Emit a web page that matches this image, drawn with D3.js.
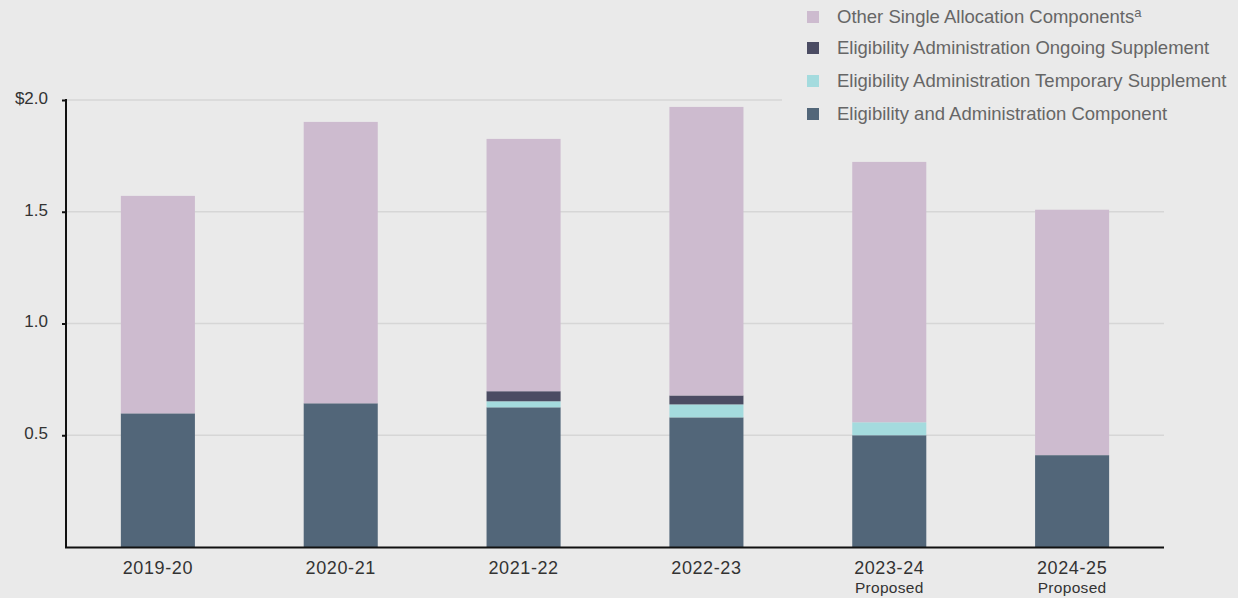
<!DOCTYPE html>
<html>
<head>
<meta charset="utf-8">
<script src="https://cdn.jsdelivr.net/npm/d3@7"></script>
<style>
  body { margin: 0; background: #eaeaea; }
  svg { display: block; font-family: "Liberation Sans", Arial, sans-serif; }
</style>
</head>
<body>
<svg width="1238" height="598"></svg>
<script>
const years = ['2019-20', '2020-21', '2021-22', '2022-23', '2023-24', '2024-25'];
const subLabels = ['', '', '', '', 'Proposed', 'Proposed'];
const eligAdmin = [0.598, 0.643, 0.625, 0.580, 0.500, 0.411];
const tempSupp = [0, 0, 0.027, 0.058, 0.058, 0];
const ongoingSupp = [0, 0, 0.045, 0.040, 0, 0];
const otherComp = [0.973, 1.259, 1.129, 1.291, 1.165, 1.098];
const yTicks = [0.5, 1.0, 1.5, 2.0];

const seriesKeys = ['elig', 'temp', 'ongoing', 'other'];
const colors = { elig: '#526679', temp: '#a4dbde', ongoing: '#4b4c63', other: '#cdbbcf' };

const rows = years.map((y, i) => ({
  year: y, elig: eligAdmin[i], temp: tempSupp[i], ongoing: ongoingSupp[i], other: otherComp[i]
}));
const stacked = d3.stack().keys(seriesKeys)(rows);

const svg = d3.select('svg');
const x = d3.scaleBand().domain(years).range([66, 1164]).paddingInner(0.595).paddingOuter(0.3);
const y = d3.scaleLinear().domain([0, 2]).range([547, 100]);

// gridlines
svg.append('g')
  .selectAll('line')
  .data(yTicks)
  .join('line')
  .attr('x1', 66).attr('x2', 1164)
  .attr('y1', d => y(d)).attr('y2', d => y(d))
  .attr('stroke', '#d6d6d6').attr('stroke-width', 1.5);

// bars
svg.append('g')
  .selectAll('g')
  .data(stacked)
  .join('g')
  .attr('fill', s => colors[s.key])
  .selectAll('rect')
  .data(s => s)
  .join('rect')
  .attr('x', d => x(d.data.year))
  .attr('width', x.bandwidth())
  .attr('y', d => y(d[1]))
  .attr('height', d => y(d[0]) - y(d[1]));

// legend background (covers top gridline)
svg.append('rect')
  .attr('x', 782).attr('y', 0).attr('width', 456).attr('height', 130)
  .attr('fill', '#eaeaea');

// y axis
const yAxis = svg.append('g')
  .attr('transform', 'translate(66,0)')
  .call(d3.axisLeft(y).tickValues(yTicks).tickSize(4)
    .tickFormat(d => d === 2 ? '$2.0' : d3.format('.1f')(d)));
yAxis.select('.domain').remove();
yAxis.selectAll('line').attr('stroke', '#111').attr('stroke-width', 2);
yAxis.selectAll('text')
  .attr('x', -18).attr('dy', '0.2em')
  .attr('fill', '#333').style('font-size', '17px');

svg.append('line')
  .attr('x1', 66).attr('x2', 66).attr('y1', 99).attr('y2', 548)
  .attr('stroke', '#111').attr('stroke-width', 2);
svg.append('line')
  .attr('x1', 65).attr('x2', 1164).attr('y1', 547.5).attr('y2', 547.5)
  .attr('stroke', '#111').attr('stroke-width', 2);

// x labels
const xl = svg.append('g');
xl.selectAll('text.yr')
  .data(years)
  .join('text')
  .attr('class', 'yr')
  .attr('x', d => x(d) + x.bandwidth() / 2)
  .attr('y', 574)
  .attr('text-anchor', 'middle')
  .attr('fill', '#333').style('font-size', '18px').style('letter-spacing', '0.6px')
  .text(d => d);
xl.selectAll('text.sub')
  .data(years)
  .join('text')
  .attr('class', 'sub')
  .attr('x', d => x(d) + x.bandwidth() / 2)
  .attr('y', 593)
  .attr('text-anchor', 'middle')
  .attr('fill', '#333').style('font-size', '15.5px').style('letter-spacing', '0.3px')
  .text((d, i) => subLabels[i]);

// legend
const legendItems = [
  { key: 'other', label: 'Other Single Allocation Components', sup: 'a', y: 17 },
  { key: 'ongoing', label: 'Eligibility Administration Ongoing Supplement', y: 48 },
  { key: 'temp', label: 'Eligibility Administration Temporary Supplement', y: 81 },
  { key: 'elig', label: 'Eligibility and Administration Component', y: 114 }
];
const lg = svg.append('g')
  .selectAll('g')
  .data(legendItems)
  .join('g')
  .attr('transform', d => `translate(807,${d.y})`);
lg.append('rect')
  .attr('x', 0).attr('y', -6).attr('width', 12).attr('height', 12)
  .attr('fill', d => colors[d.key]);
const lt = lg.append('text')
  .attr('x', 30).attr('dy', '0.35em')
  .attr('fill', '#666').style('font-size', '18.5px');
lt.append('tspan').text(d => d.label);
lt.filter(d => d.sup).append('tspan')
  .attr('dy', '-0.5em').style('font-size', '13px')
  .text(d => d.sup);
</script>
</body>
</html>
